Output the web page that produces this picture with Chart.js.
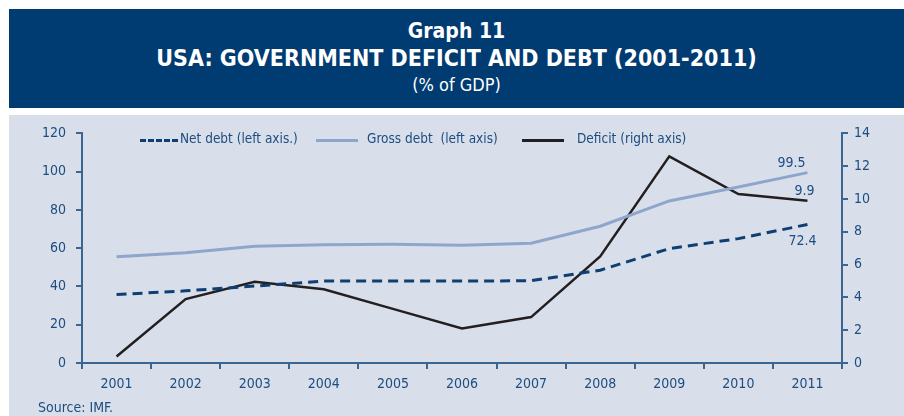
<!DOCTYPE html>
<html>
<head>
<meta charset="utf-8">
<script src="https://cdn.jsdelivr.net/npm/chart.js@4/dist/chart.umd.min.js"></script>
<style>
	body { margin: 0; background: #fff; width: 904px; height: 416px; overflow: hidden; position: relative;
		font-family: 'Liberation Sans Narrow', 'DejaVu Sans Condensed', sans-serif; }
	.header { position: absolute; left: 9px; top: 9px; width: 895px; height: 99px; background: #003B71; color: #fff; text-align: center; }
	.header .t1 { font-weight: bold; font-size: 21px; margin-top: 10px; line-height: 24px; }
	.header .t2 { font-weight: bold; font-size: 23px; line-height: 30px; }
	.header .t3 { font-size: 18px; line-height: 24px; }
	.panel { position: absolute; left: 9px; top: 115px; width: 895px; height: 301px; background: #D9DFEA; }
	#debt_chart { position: absolute; left: 0; top: 0; }
	.legend { position: absolute; top: 15px; left: 0; font-size: 13.5px; color: #1C4C80; }
	.legend span.item { position: absolute; white-space: nowrap; }
	.legend .sample { position: absolute; top: 9px; height: 0; }
	.source { position: absolute; left: 29px; top: 284px; font-size: 14px; color: #1C4C80; }
</style>
</head>
<body>
<div class="header">
	<div class="t1">Graph 11</div>
	<div class="t2">USA: GOVERNMENT DEFICIT AND DEBT (2001-2011)</div>
	<div class="t3">(% of GDP)</div>
</div>
<div class="panel">
	<canvas id="debt_chart" width="895" height="301"></canvas>
	<div class="legend" id="debt_legend"></div>
	<div class="source">Source: IMF.</div>
</div>
<script>
var years = ['2001', '2002', '2003', '2004', '2005', '2006', '2007', '2008', '2009', '2010', '2011'],
	netDebt = [35.8, 37.7, 40.2, 42.8, 42.8, 42.8, 43.0, 48.5, 59.8, 65.0, 72.4],
	grossDebt = [55.5, 57.6, 61.0, 61.8, 62.0, 61.5, 62.6, 71.5, 84.7, 92.0, 99.5],
	deficit = [0.4, 3.9, 4.95, 4.5, 3.3, 2.1, 2.8, 6.5, 12.6, 10.3, 9.9],
	leftTicks = [0, 20, 40, 60, 80, 100, 120],
	rightTicks = [0, 2, 4, 6, 8, 10, 12, 14],
	labels = ['Net debt (left axis.)', 'Gross debt\u00a0 (left axis)', 'Deficit (right axis)'],
	colors = ['#0E3F73', '#8FA6CC', '#231F20'];

var axisColor = '#3A6591',
	textColor = '#1C4C80',
	fontFamily = "'Liberation Sans Narrow', 'DejaVu Sans Condensed', sans-serif";

// legend as plain html, placed like the original
var legendPos = [[131, 171], [307, 358], [513, 568]],
	legendHtml = [];
for (let i = 0; i < labels.length; ++i) {
	let p = legendPos[i];
	let border = i === 0 ? '3px dashed ' + colors[i] : '3px solid ' + colors[i];
	let w = i === 0 ? 38 : 42;
	legendHtml.push(`<span class="item" style="left:${p[0]}px;width:${w}px"><span class="sample" style="left:0;width:${w}px;border-top:${border}"></span></span>`);
	legendHtml.push(`<span class="item" style="left:${p[1]}px">${labels[i]}</span>`);
}
document.getElementById('debt_legend').innerHTML = legendHtml.join('');

// value labels at the end of the series
var endLabels = {
	id: 'endLabels',
	afterDatasetsDraw: function(chart) {
		const ctx = chart.ctx;
		const last = years.length - 1;
		const items = [
			{ ds: 1, text: grossDebt[last].toFixed(1), dx: -16, dy: -2, base: 'bottom' },
			{ ds: 2, text: deficit[last].toFixed(1), dx: -3, dy: -2, base: 'bottom' },
			{ ds: 0, text: netDebt[last].toFixed(1), dx: -5, dy: 10, base: 'top' }
		];
		ctx.save();
		ctx.font = '14px ' + fontFamily;
		ctx.fillStyle = textColor;
		ctx.textAlign = 'center';
		items.forEach(function(it) {
			const pt = chart.getDatasetMeta(it.ds).data[last];
			ctx.textBaseline = it.base;
			ctx.fillText(it.text, pt.x + it.dx, pt.y + it.dy);
		});
		ctx.restore();
	}
};

var tickFont = { family: fontFamily, size: 14 };

var config = {
	type: 'line',
	data: {
		labels: years,
		datasets: [{
			label: labels[0],
			data: netDebt,
			borderColor: colors[0],
			borderWidth: 3,
			borderDash: [10, 6],
			yAxisID: 'y',
			pointRadius: 0,
			tension: 0
		}, {
			label: labels[1],
			data: grossDebt,
			borderColor: colors[1],
			borderWidth: 3,
			yAxisID: 'y',
			pointRadius: 0,
			tension: 0
		}, {
			label: labels[2],
			data: deficit,
			borderColor: colors[2],
			borderWidth: 2.5,
			yAxisID: 'y1',
			pointRadius: 0,
			tension: 0
		}]
	},
	options: {
		responsive: false,
		animation: false,
		layout: { padding: { top: 18, bottom: 0, left: 0, right: 0 } },
		plugins: {
			legend: { display: false },
			tooltip: { enabled: false }
		},
		scales: {
			x: {
				offset: true,
				border: { color: axisColor, width: 2 },
				grid: { offset: true, drawOnChartArea: false, drawTicks: true, tickLength: 6, color: axisColor, lineWidth: 2 },
				ticks: { color: textColor, font: tickFont, padding: 7, maxRotation: 0 },
				afterFit: function(scale) { scale.height = 53; }
			},
			y: {
				position: 'left',
				min: 0,
				max: 120,
				afterBuildTicks: function(scale) { scale.ticks = leftTicks.map(v => ({ value: v })); },
				border: { color: axisColor, width: 2 },
				grid: { drawOnChartArea: false, drawTicks: true, tickLength: 6, color: axisColor, lineWidth: 2 },
				ticks: { color: textColor, font: tickFont, padding: 10 },
				afterFit: function(scale) { scale.width = 73; }
			},
			y1: {
				position: 'right',
				min: 0,
				max: 14,
				afterBuildTicks: function(scale) { scale.ticks = rightTicks.map(v => ({ value: v })); },
				border: { color: axisColor, width: 2 },
				grid: { drawOnChartArea: false, drawTicks: true, tickLength: 6, color: axisColor, lineWidth: 2 },
				ticks: { color: textColor, font: tickFont, padding: 6 },
				afterFit: function(scale) { scale.width = 62; }
			}
		}
	},
	plugins: [endLabels]
};

new Chart(document.getElementById('debt_chart').getContext('2d'), config);
</script>
</body>
</html>
